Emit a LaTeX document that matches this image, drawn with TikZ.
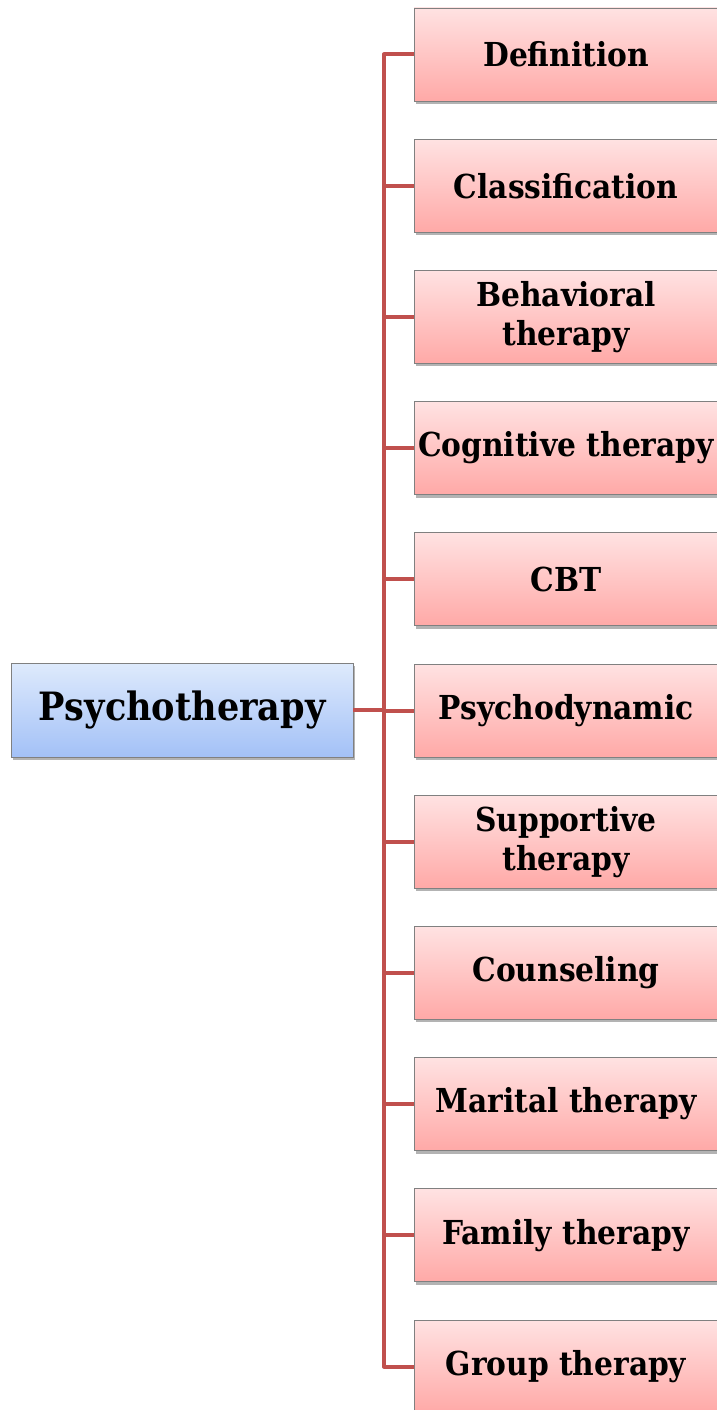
\documentclass[tikz,border=0pt]{standalone}
\usepackage{fontspec}
\setmainfont{DejaVu Serif Condensed}
\usetikzlibrary{shadows}
\definecolor{branchred}{HTML}{C0504D}
\definecolor{pinktop}{HTML}{FFE2E2}
\definecolor{pinkbot}{HTML}{FFA9A7}
\definecolor{bluetop}{HTML}{DEEAFC}
\definecolor{bluebot}{HTML}{A3C1F7}
\tikzset{
  rootbox/.style={draw=gray, line width=0.8pt, top color=bluetop, bottom color=bluebot,
    minimum width=342pt, minimum height=94pt, inner sep=0pt,
    font=\fontsize{39}{47}\selectfont\bfseries,
    drop shadow={shadow xshift=2pt, shadow yshift=-3pt, opacity=0.6}},
  topicbox/.style={draw=gray, line width=0.8pt, top color=pinktop, bottom color=pinkbot,
    minimum width=304pt, minimum height=93pt, inner sep=0pt, align=center,
    font=\fontsize{33}{39}\selectfont\bfseries,
    drop shadow={shadow xshift=2pt, shadow yshift=-3pt, opacity=0.6}},
  branch/.style={draw=branchred, line width=4pt, line join=round}
}
\begin{document}
\begin{tikzpicture}[x=1pt,y=-1pt]
\useasboundingbox (0,0) rectangle (717,1410);
%\draw[step=50,gray,very thin] (0,0) grid (717,1410);
\node[rootbox] (psy) at (182,710) {Psychotherapy};
\coordinate (spine) at (384,710);
\node[topicbox] (def) at (566,54.5) {Definition};
\node[topicbox] (cls) at (566,185.7) {Classification};
\node[topicbox] (beh) at (566,316.9) {Behavioral\\therapy};
\node[topicbox] (cog) at (566,448.1) {Cognitive therapy};
\node[topicbox] (cbt) at (566,579.3) {CBT};
\node[topicbox] (dyn) at (566,710.5) {Psychodynamic};
\node[topicbox] (sup) at (566,841.7) {Supportive\\therapy};
\node[topicbox] (cou) at (566,972.9) {Counseling};
\node[topicbox] (mar) at (566,1104.1) {Marital therapy};
\node[topicbox] (fam) at (566,1235.3) {Family therapy};
\node[topicbox] (grp) at (566,1366.5) {Group therapy};
% branches from the root to each topic
\draw[branch] (psy.east) -- (spine) |- (def.west);
\draw[branch] (spine) |- (cls.west);
\draw[branch] (spine) |- (beh.west);
\draw[branch] (spine) |- (cog.west);
\draw[branch] (spine) |- (cbt.west);
\draw[branch] (spine) |- (dyn.west);
\draw[branch] (spine) |- (sup.west);
\draw[branch] (spine) |- (cou.west);
\draw[branch] (spine) |- (mar.west);
\draw[branch] (spine) |- (fam.west);
\draw[branch] (psy.east) -- (spine) |- (grp.west);
\end{tikzpicture}
\end{document}
